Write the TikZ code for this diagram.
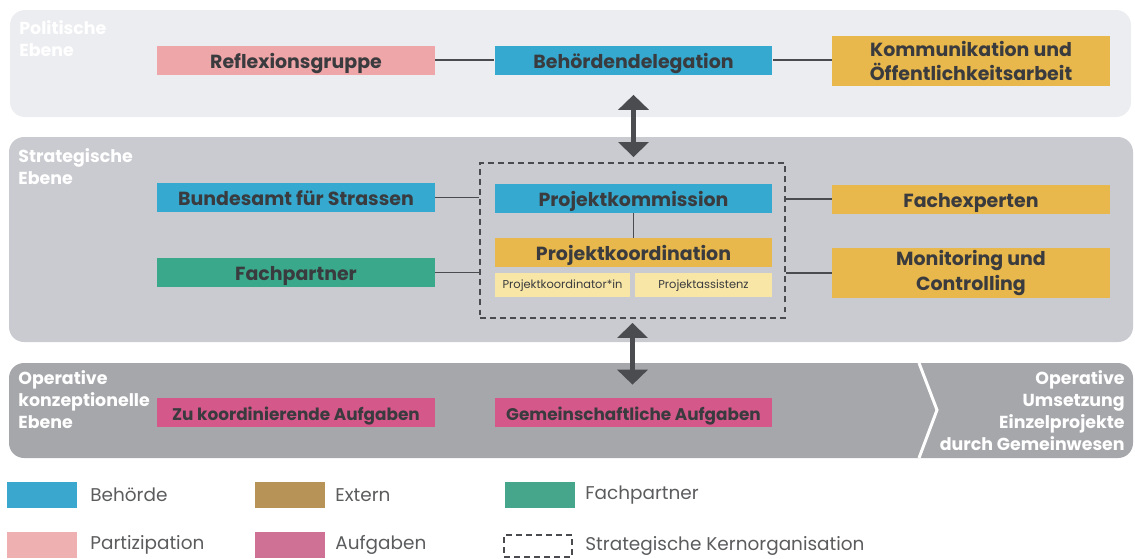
\documentclass[tikz,border=0pt]{standalone}
\usepackage{fontspec}
\setmainfont{Poppins}
\usetikzlibrary{math}
\usetikzlibrary{arrows.meta}
\usetikzlibrary{calc}

\definecolor{bandpol}{HTML}{ECEDF0}
\definecolor{bandstrat}{HTML}{CACBD0}
\definecolor{bandop}{HTML}{A6A7AB}
\definecolor{behoerde}{HTML}{36A9D0}
\definecolor{extern}{HTML}{E9B84C}
\definecolor{fachgruen}{HTML}{3AA88A}
\definecolor{partizip}{HTML}{EFA6A8}
\definecolor{aufgabe}{HTML}{D5588A}
\definecolor{kleingelb}{HTML}{F7E6A6}
\definecolor{boxtext}{HTML}{3A3B3E}
\definecolor{linegrey}{HTML}{4A4B4E}
\definecolor{arrowgrey}{HTML}{4B4C50}
\definecolor{legendtext}{HTML}{5B5C5E}
\definecolor{legblau}{HTML}{3AA8CE}
\definecolor{legextern}{HTML}{B89358}
\definecolor{leggruen}{HTML}{45A68B}
\definecolor{legpink}{HTML}{EFB0B1}
\definecolor{legaufgabe}{HTML}{CE7194}

\begin{document}
\begin{tikzpicture}[x=0.02cm, y=-0.02cm]
\tikzset{
  base/.style={align=center, inner sep=0pt, text=boxtext,
    font=\bfseries\fontsize{10.8}{14}\selectfont},
  box/.style={base, minimum width=\w cm, minimum height=0.58cm,
    text height=9.5pt, text depth=0pt},
  tallbox/.style={base, minimum width=\w cm, minimum height=1.0cm},
  aufgbox/.style={box, fill=aufgabe, text height=8.6pt,
    font=\bfseries\fontsize{9.6}{12}\selectfont},
  smallbox/.style={base, fill=kleingelb, minimum height=0.48cm,
    text height=4pt, text depth=0pt, font=\fontsize{6.5}{7}\selectfont},
  band/.style={rounded corners=0.3cm},
  bandlabel/.style={align=left, inner sep=0pt, text=white,
    font=\bfseries\fontsize{9.9}{12.6}\selectfont},
  link/.style={draw=linegrey, line width=0.8pt},
  kernline/.style={draw=linegrey, line width=1.1pt, dash pattern=on 3.4pt off 2.3pt},
  bigarrow/.style={{Triangle[width=17pt,length=8.5pt]}-{Triangle[width=17pt,length=8.5pt]},
    line width=3pt, draw=arrowgrey},
  swatch/.style={minimum width=1.4cm, minimum height=0.52cm, inner sep=0pt},
  legtext/.style={anchor=west, inner sep=0pt, text=legendtext,
    font=\fontsize{10.5}{12}\selectfont},
}

\tikzmath{\w=5.56;}

\useasboundingbox (0,0) rectangle (1135,558);

% Ebenen
\fill[band, fill=bandpol] (10,10) rectangle (1131,117);
\fill[band, fill=bandstrat] (9,137) rectangle (1133,342);
\fill[band, fill=bandop] (9,363) rectangle (1133,458);
\draw[white, line width=1.7pt] (919,363) -- (937,410) -- (919,458);

\node[bandlabel, anchor=north west] (lpol) at (19,20) {Politische\\Ebene};
\node[bandlabel, anchor=north west] (lstrat) at (18,148) {Strategische\\Ebene};
\node[bandlabel, anchor=north west] (lop) at (18,370) {Operative\\konzeptionelle\\Ebene};
\node[bandlabel, anchor=north east, align=right] (lumsetz) at (1125,370)
  {Operative\\Umsetzung\\Einzelprojekte\\durch Gemeinwesen};

% Politische Ebene
\node[box, fill=partizip] (reflex) at (296,60) {Reflexionsgruppe};
\node[box, fill=behoerde] (behdel) at (633.5,60) {Behördendelegation};
\node[tallbox, fill=extern] (komm) at (971,61) {Kommunikation und\\Öffentlichkeitsarbeit};

% Strategische Ebene
\node[kernline, minimum width=6.1cm, minimum height=3.1cm] (kern) at (632.5,240.5) {};
\node[box, fill=behoerde] (bund) at (296,197.5) {Bundesamt für Strassen};
\node[box, fill=fachgruen] (fachp) at (296,272.5) {Fachpartner};
\node[box, fill=behoerde] (pkomm) at (633.5,198) {Projektkommission};
\node[box, fill=extern] (pkoord) at (633.5,252.5) {Projektkoordination};
\node[smallbox, minimum width=2.7cm] (pkin) at (562.5,285) {Projektkoordinator*in};
\node[smallbox, minimum width=2.74cm] (passist) at (703.5,285) {Projektassistenz};
\node[box, fill=extern] (fachexp) at (971,199) {Fachexperten};
\node[tallbox, fill=extern] (monit) at (971,273) {Monitoring und\\Controlling};

% Operative Ebene
\node[aufgbox] (zukoord) at (296,412.5) {Zu koordinierende Aufgaben};
\node[aufgbox] (gemein) at (633.5,412.5) {Gemeinschaftliche Aufgaben};

\draw[link] (reflex) -- (behdel);
\draw[link] (behdel.east) -- (behdel.east -| komm.west);
\draw[link] (bund.east) -- (bund.east -| kern.west);
\draw[link] (fachp.east) -- (fachp.east -| kern.west);
\draw[link] (kern.east |- fachexp) -- (fachexp.west);
\draw[link] (kern.east |- monit) -- (monit.west);
\draw[link] (pkomm) -- (pkoord);

\draw[bigarrow, shorten <=0.4cm, shorten >=0.1cm] (behdel.south) -- (behdel.south |- kern.north);
\draw[bigarrow, shorten <=0.08cm, shorten >=0.26cm] (kern.south) -- (kern.south |- gemein.north);

% Legende
\node[swatch, fill=legblau] (sbeh) at (42,495) {};
\node[legtext] (tbeh) at (90,495) {Behörde};
\node[swatch, fill=legextern] (sext) at (290,495) {};
\node[legtext] (text) at (335,495) {Extern};
\node[swatch, fill=leggruen] (sfach) at (540,495) {};
\node[legtext] (tfach) at (585,495) {Fachpartner};
\node[swatch, fill=legpink] (spart) at (42,545) {};
\node[legtext] (tpart) at (90,545) {Partizipation};
\node[swatch, fill=legaufgabe] (sauf) at (290,545) {};
\node[legtext] (tauf) at (335,545) {Aufgaben};
\node[swatch, kernline, minimum width=1.36cm, minimum height=0.44cm] (skern) at (538,546) {};
\node[legtext] (tkern) at (585,546) {Strategische Kernorganisation};
\end{tikzpicture}
\end{document}
